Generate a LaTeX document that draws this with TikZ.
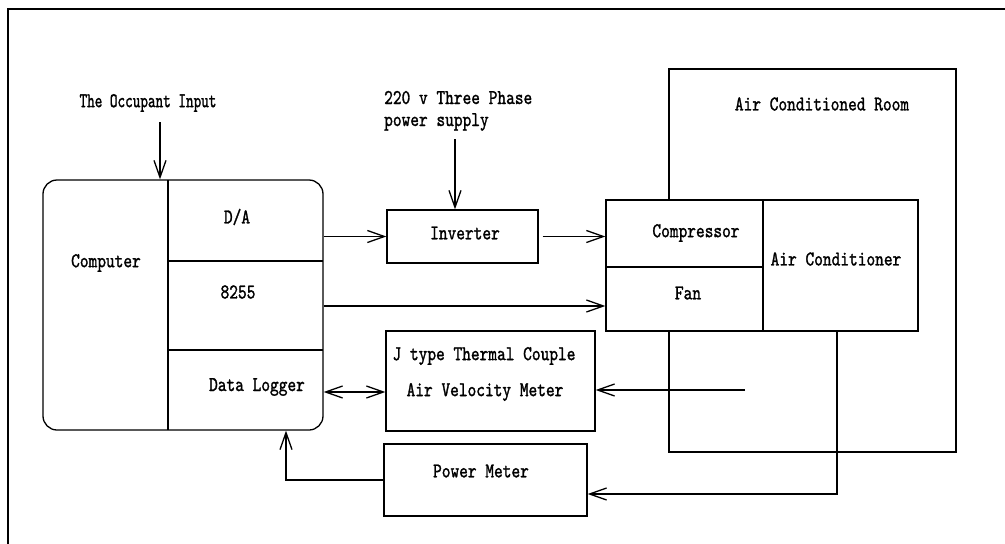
\documentclass[tikz,border=0pt]{standalone}
\usepackage{fontspec}
\newfontfamily\dfont{lmmono10-regular}[Extension=.otf, FakeStretch=0.79, FakeBold=1.3]
\newfontfamily\ofont{lmmono10-regular}[Extension=.otf, FakeStretch=0.69, FakeBold=1.3]
\usetikzlibrary{arrows.meta}
\begin{document}
\begin{tikzpicture}[x=1pt,y=-1pt,
  box/.style={draw, line width=1.3pt, inner sep=0pt, fill=white},
  ln/.style={line width=1.3pt},
  txt/.style={font=\dfont\fontsize{21}{18}\selectfont, inner sep=0pt},
  otxt/.style={font=\ofont\fontsize{21}{18}\selectfont, inner sep=0pt},
  arr/.style={line width=1.3pt, -{Straight Barb[length=17pt,width=12pt,line width=1.3pt]}},
  darr/.style={line width=1.3pt, {Straight Barb[length=17pt,width=12pt,line width=1.3pt]}-{Straight Barb[length=17pt,width=12pt,line width=1.3pt]}},
]
\useasboundingbox (0,0) rectangle (1005,544);
% outer frame
\draw[ln] (8,544) -- (8,9) -- (1005,9);

% room and air conditioner
\node[box, fill=none, minimum width=287pt, minimum height=383pt] (room) at (812.5,260.5) {};
\node[box, minimum width=157pt, minimum height=67pt] (cmp) at (684.5,233.5) {};
\node[box, minimum width=157pt, minimum height=64pt] (fan) at (684.5,299) {};
\node[box, minimum width=155pt, minimum height=131pt] (aircond) at (840.5,265.5) {};
\node[txt] (roomt) at (822,104) {Air Conditioned Room};
\node[txt] (cmpt) at (696,233) {Compressor};
\node[txt] (fant) at (688,293) {Fan};
\node[txt] (aircondt) at (836,259) {Air Conditioner};

% computer
\node[box, rounded corners=14pt, minimum width=280pt, minimum height=250pt] (comp) at (183,305) {};
\draw[ln] (168,180) -- (168,430);
\draw[ln] (168,261) -- (323,261);
\draw[ln] (168,350) -- (323,350);
\node[txt] (compt) at (106,263) {Computer};
\node[txt] (dat) at (237,217) {D/A};
\node[txt] (ppi) at (238,292) {8255};
\node[txt] (dlt) at (257,387) {Data Logger};

% other boxes
\node[box, minimum width=151pt, minimum height=53pt] (inv) at (462.5,236.5) {};
\node[txt] (invt) at (465,233) {Inverter};
\node[box, minimum width=209pt, minimum height=100pt] (jt) at (490.5,381) {};
\node[txt] (jtt1) at (484,356) {J type Thermal Couple};
\node[txt] (jtt2) at (485,392) {Air Velocity Meter};
\node[box, minimum width=203pt, minimum height=72pt] (pm) at (485.5,480) {};
\node[txt] (pmt) at (481,471) {Power Meter};

% inputs
\node[otxt] (occ) at (148,103) {The Occupant Input};
\coordinate (occs) at (160,122);
\draw[arr] (occs) -- (occs |- comp.north);
\node[txt, anchor=base west] (ps1) at (384,104) {220 v Three Phase};
\node[txt, anchor=base west] (ps2) at (384,126) {power supply};
\coordinate (pss) at (455,139);
\draw[arr] (pss) -- (pss |- inv.north);

% connectors
\draw[arr] (comp.east |- inv.west) -- (inv.west);
\draw[arr] ([xshift=4pt]inv.east) -- (cmp.west |- inv.east);
\draw[arr] (comp.east |- 0,306) -- ([yshift=-7pt]fan.west);
\draw[darr] (comp.east |- 0,392) -- ([yshift=-11pt]jt.west);
\coordinate (roomsens) at (745,390);
\draw[arr] (roomsens) -- (roomsens -| jt.east);
\coordinate (acout) at (837,331);
\draw[arr] (acout) |- ([yshift=-14pt]pm.east);
\draw[arr] (pm.west) -| ([xshift=103pt]comp.south);
\end{tikzpicture}
\end{document}
